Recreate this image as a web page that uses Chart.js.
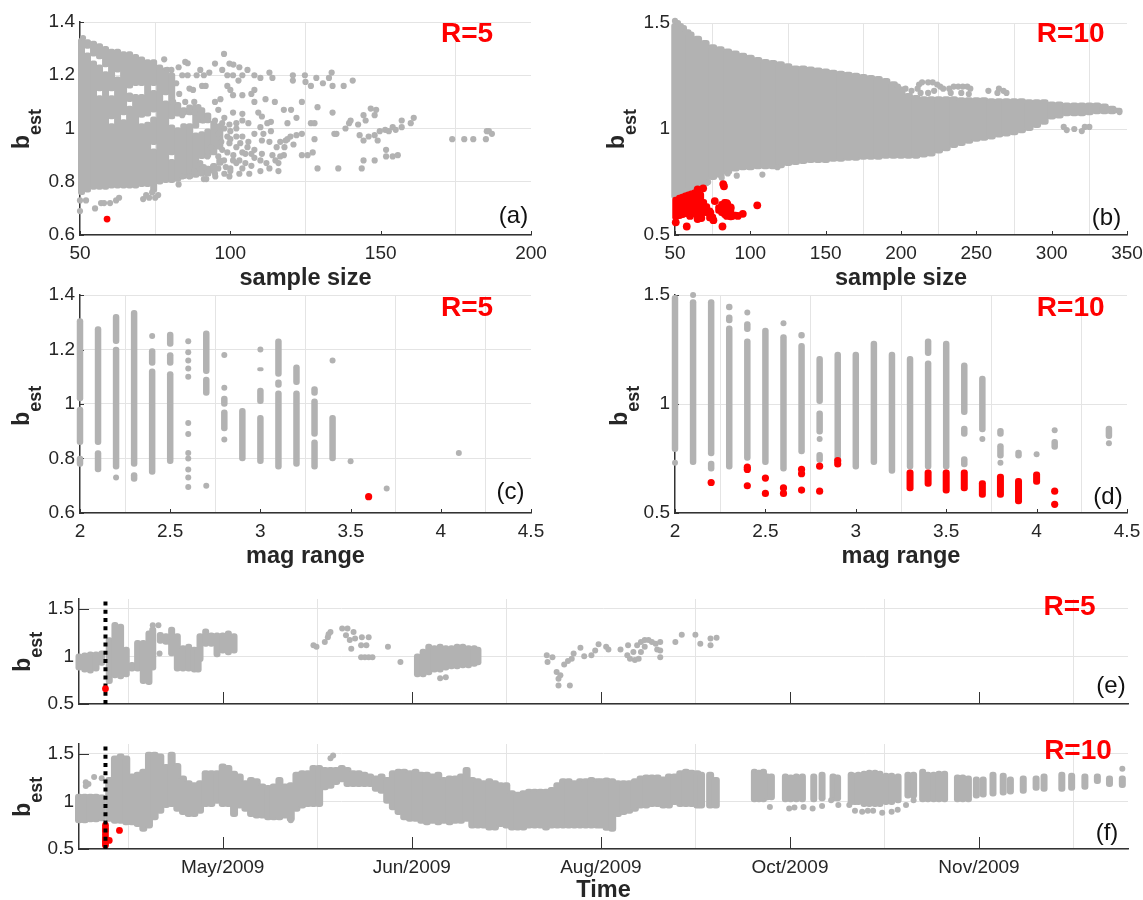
<!DOCTYPE html>
<html><head><meta charset="utf-8">
<script src="https://cdn.jsdelivr.net/npm/chart.js@4/dist/chart.umd.min.js"></script>
<style>html,body{margin:0;padding:0;background:#fff;width:1143px;height:900px;overflow:hidden}canvas{position:absolute}</style>
</head><body>
<canvas id="a"></canvas><canvas id="b"></canvas><canvas id="c"></canvas><canvas id="d"></canvas><canvas id="e"></canvas><canvas id="f"></canvas>
<script>
// ---------- axis ticks ----------
const sampleTicksA=[50,100,150,200];
const sampleTicksB=[50,100,150,200,250,300,350];
const magTicks=[2,2.5,3,3.5,4,4.5];
const bTicksSmall=[0.6,0.8,1,1.2,1.4];
const bTicksLarge=[0.5,1,1.5];
const timeTickDays=[127,177,227,277,327];
const timeTickLabels=['May/2009','Jun/2009','Aug/2009','Oct/2009','Nov/2009'];
const mainshockDay=[96];

// ---------- (a) R=5, sample size ----------
const aSolid=[[50.5,.75,1.34],[52.5,.76,1.285],[52.5,1.3,1.335],[54.5,.77,1.255],[54.5,1.27,1.33],[56.5,.77,1.125],[56.5,1.14,1.24],[56.5,1.26,1.32],[58.5,.77,1.215],[58.5,1.23,1.31],[60.5,.775,1.02],[60.5,1.035,1.125],[60.5,1.14,1.3],[62.5,.775,1.195],[62.5,1.21,1.3],[64.5,.775,1.035],[64.5,1.05,1.29],[66.5,.775,1.085],[66.5,1.1,1.135],[66.5,1.15,1.29],[68.5,.775,1.13],[68.5,1.16,1.28],[70.5,.78,1.02],[70.5,1.04,1.13],[70.5,1.16,1.27],[72.5,.78,1.025],[72.5,1.045,1.26],[74.5,.76,.925],[74.5,.938,1.045],[74.5,1.06,1.145],[74.5,1.16,1.26],[76.5,.79,1.24],[78.5,.795,1.105],[78.5,1.125,1.23],[80.5,.795,.885],[80.5,.9,1.015],[80.5,1.035,1.21],[82.5,.8,1.005],[82.5,1.045,1.1],[84.5,.81,1.02],[84.5,1.05,1.08],[86.5,.81,1.02],[86.5,1.05,1.09],[88.5,.815,.985],[88.5,1,1.09],[90.5,.82,.865],[90.5,.885,.99],[90.5,1.02,1.08],[92.5,.82,.86],[92.5,.89,1],[92.5,1.02,1.06],[94.5,.83,.87],[94.5,.9,1.03],[96.5,.86,.89],[96.5,.92,1.02]];
const aGray=[[50,.69],[55,.7],[50,.73],[52,.73],[57,.72],[58,.72],[60,.72],[62,.73],[71,.735],[73,.74],[75,.74],[76,.75],[63,.74],[72,.75],[74,.76],[51,1.34],[79,1.22],[97.9,1.28],[94.9,1.244],[91.2,1.2],[93,1.21],[99.7,1.244],[101,1.24],[103,1.23],[105.7,1.22],[97.3,1.22],[99,1.2],[100.9,1.2],[102.7,1.18],[104,1.2],[108,1.2],[110,1.19],[113,1.21],[114,1.19],[120.8,1.2],[120.8,1.18],[124.8,1.2],[125,1.175],[126.8,1.16],[128.6,1.19],[130.8,1.17],[132.8,1.19],[133.7,1.21],[134,1.16],[137.7,1.16],[140.7,1.18],[85.8,1.245],[85,1.25],[82.8,1.23],[80.4,1.22],[85.8,1.2],[88.8,1.2],[86.4,1.15],[87.6,1.145],[90.6,1.16],[91.8,1.16],[99,1.16],[100.9,1.125],[104,1.125],[107,1.13],[108,1.145],[100,1.145],[96.7,1.11],[94.9,1.1],[108,1.1],[111.7,1.11],[114.8,1.1],[123.8,1.1],[117.8,1.07],[120.2,1.07],[122,1.04],[129,1.08],[134,1.06],[96,1.07],[100.9,1.06],[104,1.055],[104,1.03],[109.3,1.06],[110.5,1.045],[113.5,1.025],[119,1.02],[126.8,1.02],[128,1.02],[139.5,1.02],[140,1.03],[138.3,1],[135.3,.98],[142.5,1.015],[144.3,1.05],[145,1.03],[146.7,1.075],[148.5,1.07],[148,1.05],[143,.975],[144.3,.955],[146,.97],[148,.975],[149,.955],[149.7,.99],[151.5,.995],[152.7,.99],[154,1.005],[155,.995],[157,1.03],[157,1.005],[160,1.02],[161,1.04],[151.8,.92],[151.8,.895],[154,.895],[155.7,.9],[148,.88],[144.3,.88],[143.7,.85],[135.9,.85],[129,.85],[127.4,.91],[123.8,.9],[125.7,.9],[128,.96],[134.6,.98],[173.8,.96],[177.8,.96],[180.8,.96],[185,.96],[185.3,.99],[186,.99],[187,.98],[123.8,.98],[122,.975],[120,.97],[118.4,.955],[116.6,.95],[115.4,.93],[117.8,.9],[116.6,.895],[116,.87],[116,.84],[113,.85],[110,.84],[106.3,.83],[107,.86],[104,.85],[102,.87],[99.7,.82],[100.9,.88],[97.9,.88],[94.9,.83],[91.2,.81],[87.6,.83],[86.4,.82],[82.8,.79],[105.7,.93],[108,.92],[110.5,.905],[107,.905],[105,.905],[110.5,.955],[108,.98],[110,1.005],[112.3,1.02],[113.5,.99],[102,.97],[103.3,.945],[99.7,.945],[97.3,.92],[96,.895],[93.6,.93],[92.4,.895],[90,.87],[91.2,.855],[94.2,.855],[98.5,.855],[100,.85],[97.3,1.02],[99.7,1.015],[94.9,1.03],[92.4,1.045],[89.4,1.08],[86.4,1.07],[84,1.05],[88,1.06],[91,1.03],[96,.98],[99,.97],[102,.93],[104,.91],[88,.84],[84,.82],[98,1],[100,.99],[102,1],[99,.91],[101,.9],[103,.88],[105,.87],[106,.95],[104,.97],[100,.96],[97,.95],[108,.89],[110,.88],[112,.87],[114,.9],[113,.95],[111,.98],[118,.93],[119,.96],[121,.94],[106,1.02],[102,1.02],[98,1.04],[115,.88],[96,.85],[98,.83],[100,.84],[103,.83],[95,.82],[92,.81],[88,1.1],[85,1.1],[81,1.1],[83,1.13],[82,1.17],[84,1.2],[90,1.22],[78,1.26]];
const aRed=[[59,.66]];

// ---------- (b) R=10, sample size ----------
const bSolid=[[50.5,.67,1.5],[53,.68,1.5],[55,.69,1.49],[58,.7,1.47],[60,.71,1.46],[65,.72,1.44],[70,.73,1.42],[75,.76,1.4],[80,.77,1.39],[85,.785,1.38],[90,.8,1.37],[95,.805,1.36],[100,.805,1.35],[105,.81,1.34],[110,.81,1.33],[115,.81,1.325],[120,.815,1.32],[125,.825,1.31],[130,.83,1.3],[135,.835,1.3],[140,.84,1.295],[145,.84,1.29],[150,.84,1.285],[155,.845,1.28],[160,.845,1.275],[165,.85,1.27],[170,.85,1.265],[175,.855,1.26],[180,.855,1.255],[185,.855,1.25],[190,.86,1.24],[195,.86,1.225],[200,.86,1.2],[205,.86,1.17],[210,.86,1.16],[215,.865,1.155],[220,.87,1.155],[225,.885,1.155],[230,.895,1.155],[235,.91,1.155],[240,.92,1.15],[245,.93,1.15],[250,.94,1.15],[255,.945,1.15],[260,.95,1.145],[265,.96,1.145],[270,.965,1.145],[275,.97,1.145],[280,.98,1.145],[285,.99,1.14],[290,1.005,1.14],[295,1.02,1.14],[300,1.045,1.13],[305,1.05,1.13],[310,1.06,1.125],[315,1.06,1.125],[320,1.06,1.125],[325,1.065,1.125],[330,1.07,1.125],[335,1.07,1.12],[340,1.07,1.11],[344,1.075,1.1]];
const bGray=[[50,1.51],[52,1.5],[198,1.2],[203,1.19],[207,1.18],[211,1.19],[212,1.21],[214,1.22],[218,1.22],[221,1.22],[224,1.21],[226,1.2],[222,1.18],[228,1.19],[232,1.19],[235,1.2],[238,1.2],[241,1.2],[244,1.2],[246,1.19],[233,1.17],[240,1.17],[245,1.165],[258,1.18],[265,1.19],[268,1.18],[270,1.17],[264,1.17],[213,1.17],[218,1.17],[118,.82],[108,.785],[91,.78],[85,.79],[81,.77],[72,.75],[310,.995],[315,1],[322,1.01],[325,1.01],[320,.99],[308,1.01],[345,1.08]];
const bRedSolid=[[50.5,.57,.68],[53,.575,.69],[55,.58,.695],[57,.585,.7],[59,.585,.705],[61,.59,.71],[63,.585,.715],[65,.565,.72],[67,.58,.705],[69,.59,.67],[71,.59,.65],[73,.565,.63],[75,.56,.6],[79,.6,.645],[81,.59,.66],[83,.58,.67],[85,.575,.66],[87,.57,.64],[90,.575,.61]];
const bRed=[[68.7,.72],[65,.715],[50.5,.56],[57.8,.54],[82,.74],[82.5,.73],[76.4,.66],[84.4,.65],[87,.63],[80.8,.63],[84.4,.59],[88,.59],[91.7,.59],[95,.6],[81.5,.54],[104.6,.64],[73.5,.605],[75.5,.57],[65,.575],[67.5,.58],[60,.59]];

// ---------- (c) R=5, mag range ----------
const cSolid=[[2,1.01,1.315],[2,.85,.99],[2,.77,.81],[2.1,.75,.83],[2.1,.85,1.285],[2.2,1.22,1.33],[2.2,.76,1.21],[2.3,.77,1.345],[2.3,.715,.75],[2.4,1.14,1.205],[2.4,.74,1.13],[2.5,1.21,1.265],[2.5,1.14,1.19],[2.5,.78,1.12],[2.7,1.03,1.1],[2.7,1.11,1.27],[2.8,.99,1.03],[2.8,.9,.98],[2.9,.79,.985],[3,1.12,1.135],[3,1,1.06],[3,.78,.96],[3.1,1.1,1.24],[3.1,1.06,1.09],[3.1,.76,1.05],[3.2,1.07,1.145],[3.2,.77,1.05],[3.3,1.03,1.065],[3.3,.88,1.02],[3.3,.76,.87],[3.4,.79,.96]];
const cGray=[[2.2,.73],[2.4,1.25],[2.6,1.23],[2.6,1.19],[2.6,1.16],[2.6,1.13],[2.6,1.1],[2.6,.93],[2.6,.89],[2.6,.82],[2.6,.8],[2.6,.76],[2.6,.73],[2.6,.695],[2.7,.7],[2.8,1.18],[2.8,1.06],[2.8,.87],[3,1.2],[3.4,1.16],[3.5,.79],[3.7,.69],[4.1,.82]];
const cRed=[[3.6,.66]];

// ---------- (d) R=10, mag range ----------
const dSolid=[[2,.78,1.5],[2.1,.72,1.48],[2.2,.76,1.48],[2.2,.69,.74],[2.3,1.43,1.46],[2.3,1.37,1.41],[2.3,.7,1.36],[2.4,1.33,1.38],[2.4,.74,1.3],[2.5,.72,1.35],[2.6,.69,1.32],[2.7,1.3,1.33],[2.7,.77,1.28],[2.8,1,1.22],[2.8,.86,.97],[2.8,.73,.78],[2.9,.73,1.24],[3,.7,1.24],[3.1,.72,1.29],[3.2,.68,1.24],[3.3,.7,1.22],[3.4,1.22,1.3],[3.4,.7,1.2],[3.5,.7,1.29],[3.6,.95,1.19],[3.6,.85,.9],[3.6,.71,.76],[3.7,.87,1.13],[3.8,.85,.89],[3.8,.75,.82],[3.9,.75,.79],[4.1,.79,.84],[4.4,.84,.9]];
const dRedSolid=[[3.3,.6,.7],[3.4,.62,.7],[3.5,.59,.7],[3.6,.6,.7],[3.7,.57,.65],[3.8,.57,.68],[3.9,.54,.66],[4,.63,.69]];
const dGray=[[2,.73],[2.1,1.5],[2.4,1.42],[2.6,1.37],[2.8,.84],[3.7,.84],[3.8,.73],[4,.77],[4.1,.88],[4.4,.82]];
const dRed=[[2.2,.64],[2.4,.71],[2.4,.7],[2.4,.625],[2.5,.66],[2.5,.59],[2.6,.615],[2.6,.59],[2.7,.7],[2.7,.68],[2.7,.605],[2.8,.715],[2.8,.6],[2.9,.74],[2.9,.725],[4.1,.6],[4.1,.54]];

// ---------- (e) R=5, time ----------
const eSolid=[[89,.85,1.03],[90.5,.83,1.04],[92,.82,1.05],[93.5,.84,1.05],[95,.9,1.06],[97,.71,1.2],[98.5,.77,1.36],[100,.76,1.34],[101.5,.78,1.1],[103,.84,.94],[104.5,.84,1.17],[106,.71,1.17],[107.5,.7,1.27],[108.5,.85,1.31],[110.5,1.13,1.255],[112,1.12,1.24],[113.5,1,1.31],[115,.84,1.24],[116.5,.84,1.115],[118,.84,1.13],[119.5,.83,1.1],[120.5,.83,1.1],[121,.94,1.24],[122.5,1.1,1.29],[124,1.1,1.25],[125.5,.99,1.25],[127,1.03,1.25],[128.5,1.01,1.27],[130,1.03,1.24],[178.5,.78,1.03],[180,.78,1.08],[181.5,.8,1.13],[183,.83,1.115],[184.5,.83,1.13],[186,.85,1.115],[187.5,.865,1.115],[189,.865,1.13],[190.5,.875,1.13],[192,.875,1.115],[193.5,.89,1.115],[194.5,.905,1.1]];
const eGray=[[108.5,1.325],[110,1.325],[110.3,1.03],[113,1.15],[151,1.115],[151.8,1.1],[154,1.15],[154.8,1.2],[155.5,1.255],[155,1.23],[158.6,1.29],[160,1.29],[159.6,1.22],[161.6,1.255],[160.6,1.17],[162,1.185],[161,1.08],[163.6,1.115],[165,1.115],[165.6,1.2],[163.8,1.2],[163.6,.99],[164.6,.99],[165.6,.99],[166.6,.99],[170.7,1.1],[174,.94],[184.5,.77],[186,.78],[212.7,1.01],[214.2,.99],[212.9,.94],[215.3,.835],[216.3,.8],[215.8,.765],[215.8,.695],[218.8,.695],[217.3,.915],[218.3,.95],[219.3,.975],[219.8,1.03],[221.6,1.09],[222.6,1],[224.5,1.01],[225.5,1.06],[226.4,1.125],[228.4,1.1],[229,1.07],[232.2,1.07],[234.2,1.115],[234,1.01],[234.7,.975],[236,.96],[237,.975],[235.6,1.045],[236.6,1.115],[237.6,1.15],[238.6,1.17],[239.6,1.17],[240.5,1.15],[241.5,1.13],[242.7,1.15],[242.7,1.06],[242.7,.99],[241.9,1.07],[237.6,1.045],[238.6,1.1],[246.7,1.15],[248.4,1.225],[252,1.225],[253.3,1.13],[256,1.115],[256,1.185],[257.6,1.195]];
const eRed=[[96,.66]];

// ---------- (f) R=10, time ----------
const fBandDays=[89,90.5,92,93.5,95,97,98.5,100,101.5,103,104.5,106,107.5,109,110.5,112,113.5,115,116.5,118,119.5,121,122.5,124,125.5,127,128.5,130,131.5,133,134.5,136,137.5,139,140.5,142,143.5,145,146.5,148,149.5,151,152.5,154,155.5,157,158.5,160,161.5,163,164.5,166,167.5,169,170.5,172,173.5,175,176.5,178,179.5,181,182.5,184,185.5,187,188.5,190,191.5,193,194.5,196,197.5,199,200.5,202,203.5,205,206.5,208,209.5,211,212.5,214,215.5,217,218.5,220,221.5,223,224.5,226,227,228.5,230,231.5,233,234.5,236,237.5,239,240.5,242,243.5,245,246.5,248,249.5,251,252.5,253.5,255.9,257.4];
const fBandHigh=[1.08,1.08,1.08,1.08,1.07,1.255,1.48,1.5,1.48,1.29,1.31,1.34,1.52,1.52,1.5,1.39,1.52,1.4,1.27,1.22,1.2,1.22,1.325,1.325,1.325,1.395,1.38,1.32,1.29,1.22,1.255,1.24,1.185,1.17,1.185,1.255,1.185,1.2,1.31,1.325,1.325,1.38,1.38,1.36,1.36,1.36,1.38,1.36,1.325,1.325,1.31,1.29,1.27,1.29,1.255,1.325,1.34,1.34,1.325,1.34,1.31,1.31,1.29,1.31,1.255,1.27,1.27,1.29,1.36,1.255,1.24,1.22,1.24,1.22,1.2,1.2,1.115,1.1,1.115,1.13,1.13,1.13,1.13,1.15,1.2,1.24,1.24,1.22,1.24,1.24,1.255,1.24,1.24,1.25,1.24,1.22,1.22,1.22,1.24,1.27,1.28,1.28,1.28,1.26,1.29,1.29,1.325,1.34,1.33,1.325,1.31,1.31,1.255,1.22];
const fBandLow=[.77,.77,.78,.78,.79,.785,.765,.765,.75,.75,.73,.68,.715,.8,.87,.93,.94,.89,.855,.835,.835,.87,.94,.94,.975,.94,.94,.835,.925,.89,.835,.82,.82,.8,.8,.8,.82,.785,.89,.925,.94,.94,.94,1.115,1.13,1.17,1.2,1.15,1.15,1.15,1.15,1.15,1.1,1.08,.975,.905,.855,.8,.785,.785,.765,.75,.765,.75,.765,.75,.765,.765,.785,.715,.715,.715,.695,.695,.73,.715,.695,.695,.695,.715,.715,.715,.695,.715,.715,.715,.715,.715,.715,.715,.715,.715,.715,.69,.68,.835,.855,.87,.89,.925,.925,.94,.94,.925,.925,.96,.94,.94,.94,.925,.925,.925,.925,.925];
const fStripes=[[267.6,.99,1.34],[268.8,.99,1.33],[270,.99,1.34],[271,1.01,1.29],[272.1,1.01,1.29],[275.8,.99,1.29],[277.2,.99,1.28],[278.7,.99,1.29],[280.3,.99,1.29],[283.3,.99,1.29],[285.5,1,1.31],[288.4,1,1.29],[289.6,1,1.28],[293.2,.96,1.31],[294.2,.96,1.3],[295.1,.96,1.31],[296.6,.94,1.32],[298,.94,1.33],[299.5,.94,1.33],[300.8,.94,1.32],[302.4,.96,1.3],[303.9,.96,1.3],[305.6,.98,1.29],[308.2,1.03,1.31],[309.7,1.03,1.31],[312.1,.99,1.34],[313.5,.99,1.31],[315,.99,1.31],[316.4,.99,1.32],[317.9,.99,1.32],[321.3,.99,1.28],[322.7,.99,1.28],[324.2,.99,1.27],[326.3,1.03,1.26],[328.1,1.04,1.26],[330.7,1.05,1.31],[333.4,1.06,1.3],[335.3,1.07,1.26],[338.7,1.08,1.27],[342.1,1.11,1.27],[344.2,1.1,1.29],[348.9,1.1,1.31],[351.5,1.11,1.3],[355,1.12,1.29],[358.3,1.18,1.29],[361.5,1.15,1.27],[364.9,1.14,1.27]];
const fGray=[[90.8,1.2],[91.5,1.18],[93,1.255],[90.8,1.16],[95,1.24],[271.7,.94],[276.8,.925],[278.2,.935],[280.6,.94],[283,.925],[285.5,.95],[287.9,1.01],[289.8,.96],[292.7,.96],[294.2,.9],[296.1,.89],[297.6,.9],[299,.9],[301.4,.88],[303.9,.89],[305.5,.91],[307.7,.96],[309.7,1.01],[364.9,1.34],[155.5,1.45],[156.2,1.48],[145,.8]];
const fRed=[[96,.75],[96,.72],[96,.7],[96,.68],[96,.65],[96,.62],[96,.6],[96,.58],[96,.56],[96,.54],[97,.59],[99.7,.695]];

// ---------- styling ----------
const GRAY='#b2b2b2',RED='#ff0000',INK='#333333',TEXT='#262626';
const FF='"Liberation Sans", Arial, sans-serif';

const pts=(a)=>a.map(p=>({x:p[0],y:p[1]}));
const segs=(a)=>a.map(s=>({x:s[0],y:[s[1],s[2]]}));
const dots=(a,c,r)=>({type:'scatter',data:pts(a),backgroundColor:c,pointBackgroundColor:c,pointBorderWidth:0,pointRadius:r,showLine:false,clip:false});
const cols=(a,c,w,rad)=>({type:'bar',data:segs(a),backgroundColor:c,barThickness:w,borderRadius:rad,borderSkipped:false,borderWidth:0,grouped:false,clip:false,inflateAmount:0});
const dotted=(bot,top)=>({type:'line',data:[{x:mainshockDay[0],y:bot},{x:mainshockDay[0],y:top}],borderColor:'#000',borderWidth:4,borderDash:[4,4.2],pointRadius:0,clip:false,fill:false});

const decor={id:'decor',
  beforeDatasetsDraw(ch,_,o){const c=ch.ctx,A=ch.chartArea;c.save();c.strokeStyle=INK;c.lineWidth=1;c.beginPath();
    ch.scales.x.ticks.forEach(t=>{const p=Math.round(ch.scales.x.getPixelForValue(t.value))+.5;c.moveTo(p,A.bottom);c.lineTo(p,A.bottom-o.xTick);});
    ch.scales.y.ticks.forEach(t=>{const p=Math.round(ch.scales.y.getPixelForValue(t.value))+.5;c.moveTo(A.left,p);c.lineTo(A.left+o.yTick,p);});
    c.stroke();c.restore();},
  afterDraw(ch,_,o){const c=ch.ctx;c.save();
    c.fillStyle=TEXT;c.translate(o.yt[0],o.yt[1]);c.rotate(-Math.PI/2);c.textBaseline='alphabetic';c.textAlign='left';
    c.font='bold 23px '+FF;c.fillText('b',0,0);const w=c.measureText('b').width;
    c.font='bold 18px '+FF;c.fillText('est',w,o.sub);c.restore();
    c.save();c.textAlign='center';c.textBaseline='middle';
    c.fillStyle=RED;c.font='bold 28px '+FF;c.fillText(o.r[0],o.r[1],o.r[2]);
    c.fillStyle='#111';c.font='24px '+FF;c.fillText(o.p[0],o.p[1],o.p[2]);c.restore();}
};

function panel(id,rect,plot,o){
  const cv=document.getElementById(id);cv.width=rect.w;cv.height=rect.h;
  cv.style.cssText=`left:${rect.l}px;top:${rect.t}px;width:${rect.w}px;height:${rect.h}px`;
  const titleFont={family:FF,size:23.5,weight:'bold',lineHeight:1.2};
  new Chart(cv,{type:'bar',data:{datasets:o.datasets},plugins:[decor],options:{
    responsive:false,animation:false,devicePixelRatio:1,
    layout:{padding:{top:plot.t-rect.t,right:rect.w-(plot.r-rect.l),left:0,bottom:0}},
    plugins:{legend:{display:false},tooltip:{enabled:false},
      decor:{xTick:o.xTick,yTick:o.yTick,yt:[o.yt[0]-rect.l,o.yt[1]-rect.t],sub:o.sub||12,
        r:[o.r[0],o.r[1]-rect.l,o.r[2]-rect.t],p:[o.p[0],o.p[1]-rect.l,o.p[2]-rect.t]}},
    scales:{
      x:{type:'linear',offset:false,min:o.xr[0],max:o.xr[1],
        afterBuildTicks:s=>{s.ticks=o.xt.map(v=>({value:v}));},
        afterFit:s=>{s.height=rect.t+rect.h-plot.b;},
        grid:{color:'#e4e4e4',lineWidth:1,drawTicks:false},border:{color:INK,width:1.5},
        ticks:{display:o.xLabels!==false,autoSkip:false,maxRotation:0,minRotation:0,padding:o.xPad||7,color:TEXT,font:{family:FF,size:19},
          callback:(v)=>{if(o.xText){const i=o.xt.indexOf(v);return o.xText[i];}return String(v);}},
        title:o.xTitle?{display:true,text:o.xTitle,color:TEXT,font:titleFont,padding:{top:0,bottom:rect.t+rect.h-o.xTitleY-14.1}}:{display:false}},
      y:{type:'linear',min:o.yr[0],max:o.yr[1],
        afterBuildTicks:s=>{s.ticks=o.yt2.map(v=>({value:v}));},
        afterFit:s=>{s.width=plot.l-rect.l;},
        grid:{color:'#e4e4e4',lineWidth:1,drawTicks:false},border:{color:INK,width:1.5},
        ticks:{autoSkip:false,padding:5,color:TEXT,font:{family:FF,size:19},callback:v=>String(v)}}
    }}});
}

panel('a',{l:0,t:0,w:570,h:300},{l:80,r:531,t:22,b:235},{
  datasets:[dots(aRed,RED,3.4),dots(aGray,GRAY,3.1),cols(aSolid,GRAY,7,2.5)],
  xr:[50,200],xt:sampleTicksA,yr:[.6,1.4],yt2:bTicksSmall,xTick:4,yTick:4,
  xTitle:'sample size',xTitleY:279,yt:[29,149],r:['R=5',467,34],p:['(a)',513.5,216]});
panel('b',{l:570,t:0,w:600,h:300},{l:675,r:1127,t:23,b:235},{
  datasets:[dots(bRed,RED,3.9),cols(bRedSolid,RED,7,3),dots(bGray,GRAY,3.1),cols(bSolid,GRAY,9,3)],
  xr:[50,350],xt:sampleTicksB,yr:[.5,1.5],yt2:bTicksLarge,xTick:4,yTick:4,
  xTitle:'sample size',xTitleY:279,yt:[623.7,149],r:['R=10',1070.7,34],p:['(b)',1106.5,218]});
panel('c',{l:0,t:270,w:570,h:310},{l:80,r:531,t:295,b:513},{
  datasets:[dots(cRed,RED,3.6),dots(cGray,GRAY,3),cols(cSolid,GRAY,6.5,3)],
  xr:[2,4.5],xt:magTicks,yr:[.6,1.4],yt2:bTicksSmall,xTick:4,yTick:4,
  xTitle:'mag range',xTitleY:556.7,yt:[29,425.7],r:['R=5',467,308],p:['(c)',510.5,492.7]});
panel('d',{l:570,t:270,w:600,h:310},{l:675,r:1127,t:295,b:513},{
  datasets:[dots(dRed,RED,3.6),cols(dRedSolid,RED,7,3),dots(dGray,GRAY,3),cols(dSolid,GRAY,6.5,3)],
  xr:[2,4.5],xt:magTicks,yr:[.5,1.5],yt2:bTicksLarge,xTick:4,yTick:4,
  xTitle:'mag range',xTitleY:556.7,yt:[626.6,425.7],r:['R=10',1070.7,308],p:['(d)',1108,497]});
panel('e',{l:0,t:570,w:1170,h:160},{l:79,r:1128,t:599,b:704},{
  datasets:[dots(eRed,RED,3.4),dotted(.5,1.6),dots(eGray,GRAY,3),cols(eSolid,GRAY,7,3)],
  xr:[89,366.4],xt:timeTickDays,xLabels:false,yr:[.5,1.6],yt2:bTicksLarge,xTick:12,yTick:10,
  yt:[29.8,671.7],r:['R=5',1069.6,607],p:['(e)',1111,686.7]});
panel('f',{l:0,t:715,w:1170,h:195},{l:79,r:1128,t:744,b:849},{
  datasets:[dotted(.5,1.6),dots(fRed,RED,3.4),dots(fGray,GRAY,3),cols(fStripes,GRAY,7,3),
    cols(fBandDays.map((d,i)=>[d,fBandLow[i],fBandHigh[i]]),GRAY,8,3)],
  xr:[89,366.4],xt:timeTickDays,xText:timeTickLabels,yr:[.5,1.6],yt2:bTicksLarge,xTick:12,yTick:10,
  xTitle:'Time',xTitleY:891,yt:[29.8,816.7],r:['R=10',1078,751],p:['(f)',1107,833]});
</script>
</body></html>
